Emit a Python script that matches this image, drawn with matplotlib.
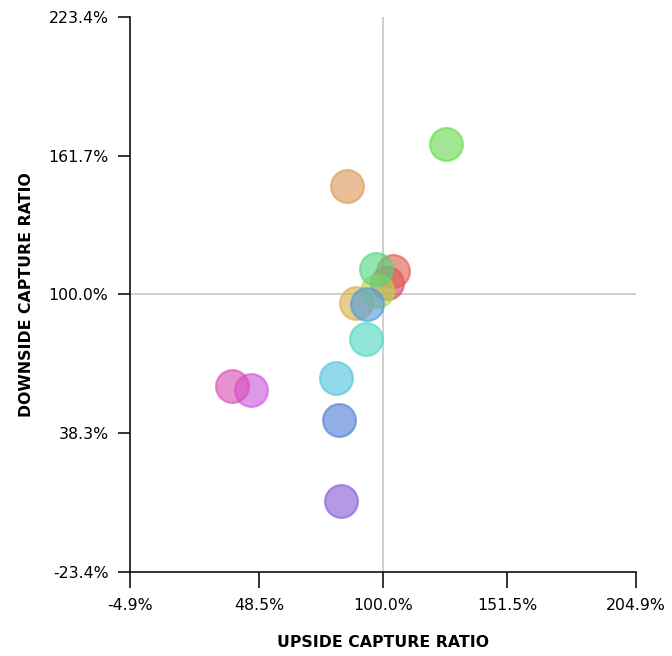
import matplotlib
matplotlib.use("Agg")
import matplotlib.pyplot as plt

# upside / downside capture ratios (%), one point per fund
upside = [101.8, 104.0, 85.1, 88.8, 97.4, 126.1, 97.1, 93.0, 80.4, 93.5, 81.9, 82.5, 45.3, 37.3]
downside = [105.2, 110.6, 148.2, 96.3, 101.7, 166.9, 111.2, 80.1, 62.7, 95.8, 44.2, 8.3, 57.7, 59.4]
colors = ["#d84860", "#e0604f", "#dc9858", "#d8b048", "#b8d848", "#68d850", "#50d880", "#50d8c0",
          "#50c4dc", "#4f9ce0", "#4f7fd8", "#8a5ad8", "#cc58dc", "#d850b4"]

x_ticks = [-4.9, 48.5, 100.0, 151.5, 204.9]
y_ticks = [-23.4, 38.3, 100.0, 161.7, 223.4]

plt.rcParams["font.family"] = ["DejaVu Sans"]

fig = plt.figure(figsize=(6.72, 6.56), dpi=100)
ax = fig.add_axes([130 / 672, 1 - 572 / 656, 506 / 672, 555 / 656])

ax.axvline(100, color="#cccccc", lw=1.3, zorder=1)
ax.axhline(100, color="#cccccc", lw=1.3, zorder=1)

for i in range(len(upside)):
    ax.scatter(upside[i], downside[i], s=560, color=colors[i], alpha=0.62,
               edgecolors=colors[i], linewidths=1.6, zorder=3)

ax.set_xlim(x_ticks[0], x_ticks[-1])
ax.set_ylim(y_ticks[0], y_ticks[-1])
ax.set_xticks(x_ticks)
ax.set_yticks(y_ticks)
ax.set_xticklabels(["{:.1f}%".format(v) for v in x_ticks])
ax.set_yticklabels(["{:.1f}%".format(v) for v in y_ticks])

for side in ["top", "right"]:
    ax.spines[side].set_visible(False)
for side in ["left", "bottom"]:
    ax.spines[side].set_linewidth(1.2)
    ax.spines[side].set_color("#111111")
ax.tick_params(width=1.2, color="#111111", labelsize=11.3, pad=7)
ax.tick_params(axis="x", length=11.5)
ax.tick_params(axis="y", length=8.5)

ax.set_xlabel("UPSIDE CAPTURE RATIO", fontsize=11.3, fontweight="bold", labelpad=16)
ax.set_ylabel("DOWNSIDE CAPTURE RATIO", fontsize=11.3, fontweight="bold", labelpad=10)

fig.savefig("out.png", dpi=100)
